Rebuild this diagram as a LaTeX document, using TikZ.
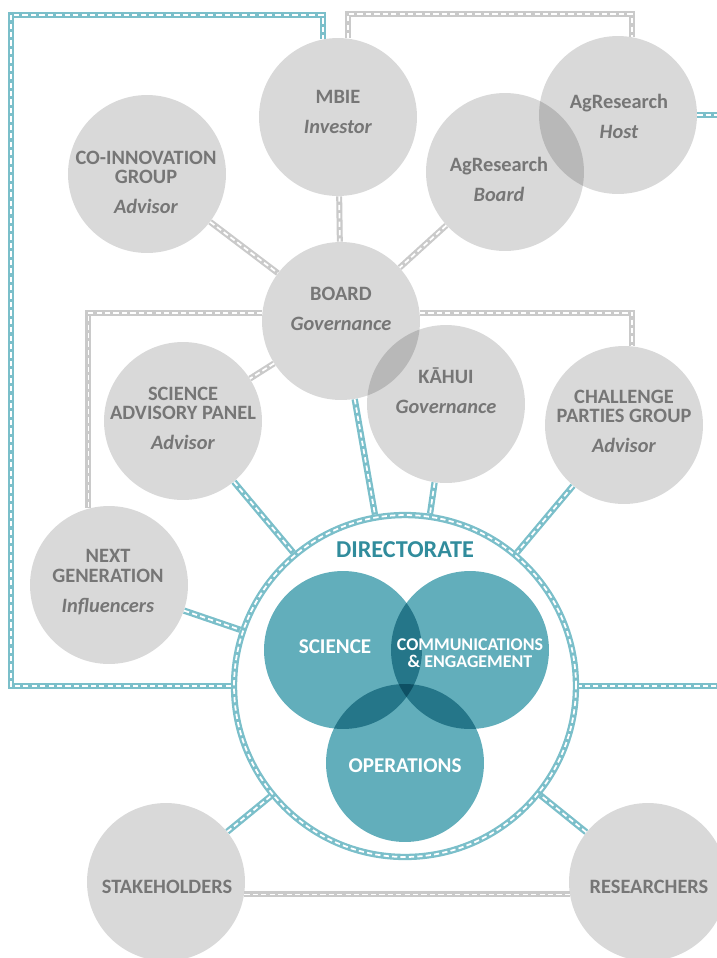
\documentclass[tikz,border=0pt]{standalone}
\usepackage{fontspec}
\setmainfont{Carlito}
\usepackage{tikz}

\definecolor{greyfill}{HTML}{D9D9D9}
\definecolor{greytext}{HTML}{767676}
\definecolor{greyline}{HTML}{CACACA}
\definecolor{tealfill}{HTML}{62AEBB}
\definecolor{tealline}{HTML}{7BBFCA}
\definecolor{tealtext}{HTML}{318C9C}

\tikzstyle{grp} = [circle, minimum size=3.16cm, inner sep=0pt]
\tikzstyle{gtxt} = [align=center, inner sep=0pt, text=greytext, font=\bfseries\fontsize{11.6}{11}\selectfont]
\tikzstyle{utxt} = [align=center, inner sep=0pt, text=white, font=\bfseries\fontsize{12}{12}\selectfont]
\tikzstyle{gline} = [draw=greyline, line width=3.4pt, postaction={draw=white, line width=1pt, dash pattern=on 3pt off 1.8pt}]
\tikzstyle{tline} = [draw=tealline, line width=3.6pt, postaction={draw=white, line width=1pt, dash pattern=on 3pt off 1.8pt}]

\begin{document}
\begin{tikzpicture}[x=0.02cm, y=-0.02cm]
	\useasboundingbox (0,0) rectangle (717,958);
	\clip (0,0) rectangle (717,958);

	% ------------------- Circle fills ------------------- %
	\begin{scope}[blend mode=multiply]
		\foreach \cx/\cy in {338/117, 147/174, 505/172, 618/115, 341/321, 446/404, 183/421, 624/425, 109/585, 166/882, 648/882}
			\fill[greyfill] (\cx,\cy) circle (1.58cm);
		\foreach \cx/\cy in {343/650, 470/650, 405/763}
			\fill[tealfill] (\cx,\cy) circle (1.58cm);
	\end{scope}

	% ------------------- Groups ------------------- %
	\node[grp] (mbie) at (338,117) {};
	\node[grp] (coinno) at (147,174) {};
	\node[grp] (agboard) at (505,172) {};
	\node[grp] (host) at (618,115) {};
	\node[grp] (board) at (341,321) {};
	\node[grp] (kahui) at (446,404) {};
	\node[grp] (sap) at (183,421) {};
	\node[grp] (cpg) at (624,425) {};
	\node[grp] (nextgen) at (109,585) {};
	\node[grp] (stake) at (166,882) {};
	\node[grp] (res) at (648,882) {};

	\node[gtxt] (mbietxt) at (338,112) {MBIE\\[6pt]\textit{Investor}};
	\node[gtxt] (coinnotxt) at (146,182) {CO-INNOVATION\\GROUP\\[6pt]\textit{Advisor}};
	\node[gtxt] (agboardtxt) at (499,179) {AgResearch\\[6pt]\textit{Board}};
	\node[gtxt] (hosttxt) at (619,116) {AgResearch\\[6pt]\textit{Host}};
	\node[gtxt] (boardtxt) at (341,309) {BOARD\\[6pt]\textit{Governance}};
	\node[gtxt] (kahuitxt) at (446,391) {KĀHUI\\[6pt]\textit{Governance}};
	\node[gtxt] (saptxt) at (183,418) {SCIENCE\\ADVISORY PANEL\\[6pt]\textit{Advisor}};
	\node[gtxt] (cpgtxt) at (624,421) {CHALLENGE\\PARTIES GROUP\\[6pt]\textit{Advisor}};
	\node[gtxt] (nextgentxt) at (108,582) {NEXT\\GENERATION\\[6pt]\textit{Influencers}};
	\node[gtxt] (staketxt) at (167,887) {STAKEHOLDERS};
	\node[gtxt] (restxt) at (649,887) {RESEARCHERS};

	% ------------------- Directorate ------------------- %
	\node[circle, minimum size=6.84cm, inner sep=0pt, tline] (dir) at (405,686) {};
	\node[font=\bfseries\fontsize{13.8}{13.8}\selectfont, text=tealtext, inner sep=0pt] (dirtxt) at (405,550) {DIRECTORATE};
	\node[utxt] (sci) at (335,647) {SCIENCE};
	\node[utxt, font=\bfseries\fontsize{10.2}{9.5}\selectfont] (comms) at (470,653) {COMMUNICATIONS\\\& ENGAGEMENT};
	\node[utxt] (ops) at (405,766) {OPERATIONS};

	% ------------------- Grey links ------------------- %
	\draw[gline] (mbie) -- (board);
	\draw[gline] (coinno) -- (board);
	\draw[gline] (agboard) -- (board);
	\draw[gline] (board) -- (sap);
	\draw[gline] (board.174) -| (nextgen.105);
	\draw[gline] (board.6) -| (cpg.84);
	\draw[gline] (mbie.83) -- ++(0,-24) -| (host.80);
	\draw[gline] (stake.-9) -- (res.-171);

	% ------------------- Teal links ------------------- %
	\coordinate (tl) at (11,15);
	\coordinate (br) at (725,686);
	\draw[tline] (dir.180) -| (tl) -| (mbie.101);
	\draw[tline] (host.0) -| (br) -- (dir.0);
	\foreach \n in {sap, nextgen, board, kahui, cpg, stake, res}
		\draw[tline] (\n) -- (dir);

\end{tikzpicture}
\end{document}
